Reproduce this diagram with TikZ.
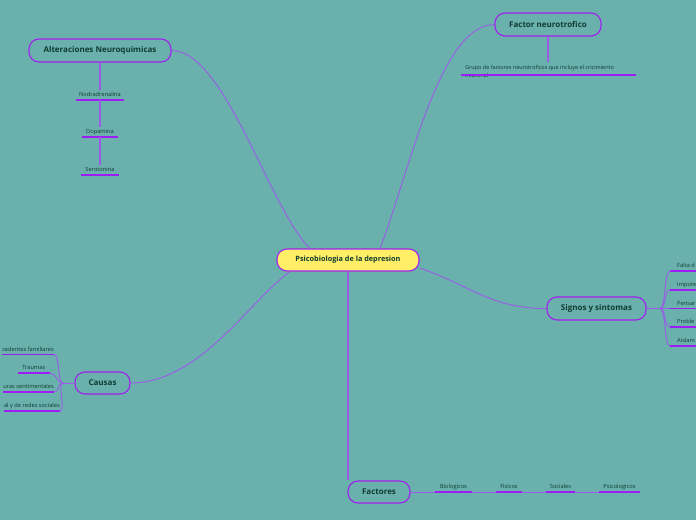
\documentclass[tikz,border=0pt]{standalone}
\usepackage{fontspec}
\setmainfont{Open Sans}
\usetikzlibrary{calc}
\definecolor{bgc}{HTML}{6AB0AD}
\definecolor{brd}{HTML}{A020F0}
\definecolor{ulc}{HTML}{9B1FF2}
\definecolor{cnc}{HTML}{9A5CE6}
\definecolor{txt}{HTML}{0F3D30}
\definecolor{yel}{HTML}{FFEE66}
\begin{document}
\begin{tikzpicture}[x=1pt,y=-1pt,
  topic/.style={draw=brd, line width=1.1pt, rounded corners=10pt, inner sep=0pt, text=txt, font=\fontsize{8}{9}\selectfont\bfseries},
  sub/.style={inner xsep=0pt, inner ysep=2.3pt, text height=4.3pt, text depth=1pt, text=txt, font=\fontsize{5.7}{6.5}\selectfont},
  conn/.style={draw=cnc, line width=0.9pt},
  vconn/.style={draw=cnc, line width=1.1pt},
  uline/.style={draw=ulc, line width=1.8pt},
]
\useasboundingbox (0,0) rectangle (696,520);
\fill[bgc] (0,0) rectangle (696,520);
\clip (0,0) rectangle (696,520);

% main topics
\node[topic, fill=yel, minimum width=142pt, minimum height=22pt, font=\fontsize{7.3}{8}\selectfont\bfseries] (c) at (348,260) {Psicobiologia de la depresion};
\node[topic, minimum width=142pt, minimum height=23pt] (alt) at (100,50.5) {Alteraciones Neuroquimicas};
\node[topic, minimum width=106pt, minimum height=23pt] (fn) at (548,24.5) {Factor neurotrofico};
\node[topic, minimum width=99pt, minimum height=23pt] (sg) at (596.5,308.5) {Signos y sintomas};
\node[topic, minimum width=55pt, minimum height=22pt] (ca) at (102.5,383) {Causas};
\node[topic, minimum width=62pt, minimum height=22pt] (fa) at (379,492) {Factores};

% central connectors
\draw[conn] ($(c.north)+(-38,0)$) .. controls (270,210) and (225,50.5) .. (alt.east);
\draw[conn] ($(c.north)+(32,0)$) .. controls (410,170) and (440,24.5) .. (fn.west);
\draw[conn] ($(c.east)+(0,8)$) .. controls (470,285) and (490,308.5) .. (sg.west);
\draw[conn] ($(c.south)+(-58,0)$) .. controls (250,300) and (200,383) .. (ca.east);
\draw[vconn] (c.south) -- (c.south |- fa.north);

% Alteraciones children
\node[sub, anchor=south, minimum width=48pt] (n1) at (100,100) {Nodradrenalina};
\node[sub, anchor=south, minimum width=36pt] (n2) at (100,137) {Dopamina};
\node[sub, anchor=south, minimum width=37pt] (n3) at (100,175) {Serotonina};
\draw[uline] (n1.south west) -- (n1.south east);
\draw[uline] (n2.south west) -- (n2.south east);
\draw[uline] (n3.south west) -- (n3.south east);
\draw[vconn] (alt.south) -- (n1.north);
\draw[vconn] (n1.south) -- (n2.north);
\draw[vconn] (n2.south) -- (n3.north);

% Factor neurotrofico child
\coordinate (fgt) at (548,62);
\coordinate (fgL) at (461,75);
\coordinate (fgR) at (636,75);
\node[anchor=north west, inner sep=0pt, align=left, text=txt, font=\fontsize{5.5}{8}\selectfont] (fg) at (465,65) {Grupo de factores neurotroficos que incluye el cricimiento\\neuronal};
\draw[uline] (fgL) -- (fgR);
\draw[vconn] (fn.south) -- (fgt);

% Signos children
\coordinate (sh) at (660,308.5);
\node[sub, anchor=south west, inner xsep=7pt] (s1) at (670,271) {Falta d};
\node[sub, anchor=south west, inner xsep=7pt] (s2) at (670,290) {Impote};
\node[sub, anchor=south west, inner xsep=7pt] (s3) at (670,308.5) {Pensar};
\node[sub, anchor=south west, inner xsep=7pt] (s4) at (670,327) {Proble};
\node[sub, anchor=south west, inner xsep=7pt] (s5) at (670,346) {Aislam};
\foreach \n in {s1,s2,s3,s4,s5}{
  \draw[uline] (\n.south west) -- (\n.south east);
  \draw[conn] (sh) .. controls +(6,0) and +(-6,0) .. (\n.south west);
}
\draw[conn] (sg.east) -- (sh);

% Causas children
\coordinate (ch) at (63,383);
\node[sub, anchor=south east] (k1) at (54,354.5) {cedentes familiares};
\node[sub, anchor=south east, minimum width=32pt] (k2) at (50,373) {Traumas};
\node[sub, anchor=south east] (k3) at (54,392) {uras sentimentales};
\node[sub, anchor=south east] (k4) at (60,411) {al y de redes sociales};
\foreach \n in {k1,k2,k3,k4}{
  \draw[uline] (\n.south west) -- (\n.south east);
  \draw[conn] (ch) .. controls +(-6,0) and +(6,0) .. (\n.south east);
}
\draw[conn] (ca.west) -- (ch);

% Factores children
\coordinate (fend) at (640,492);
\draw[conn] (fa.east) -- (fend);
\node[sub, anchor=south, minimum width=37pt] (b1) at (453.5,492) {Biologicos};
\node[sub, anchor=south, minimum width=26pt] (b2) at (509,492) {Fisicos};
\node[sub, anchor=south, minimum width=29pt] (b3) at (560.5,492) {Sociales};
\node[sub, anchor=south, minimum width=41pt] (b4) at (619.5,492) {Psicologicos};
\foreach \n in {b1,b2,b3,b4}{
  \draw[uline] (\n.south west) -- (\n.south east);
}
\end{tikzpicture}
\end{document}
